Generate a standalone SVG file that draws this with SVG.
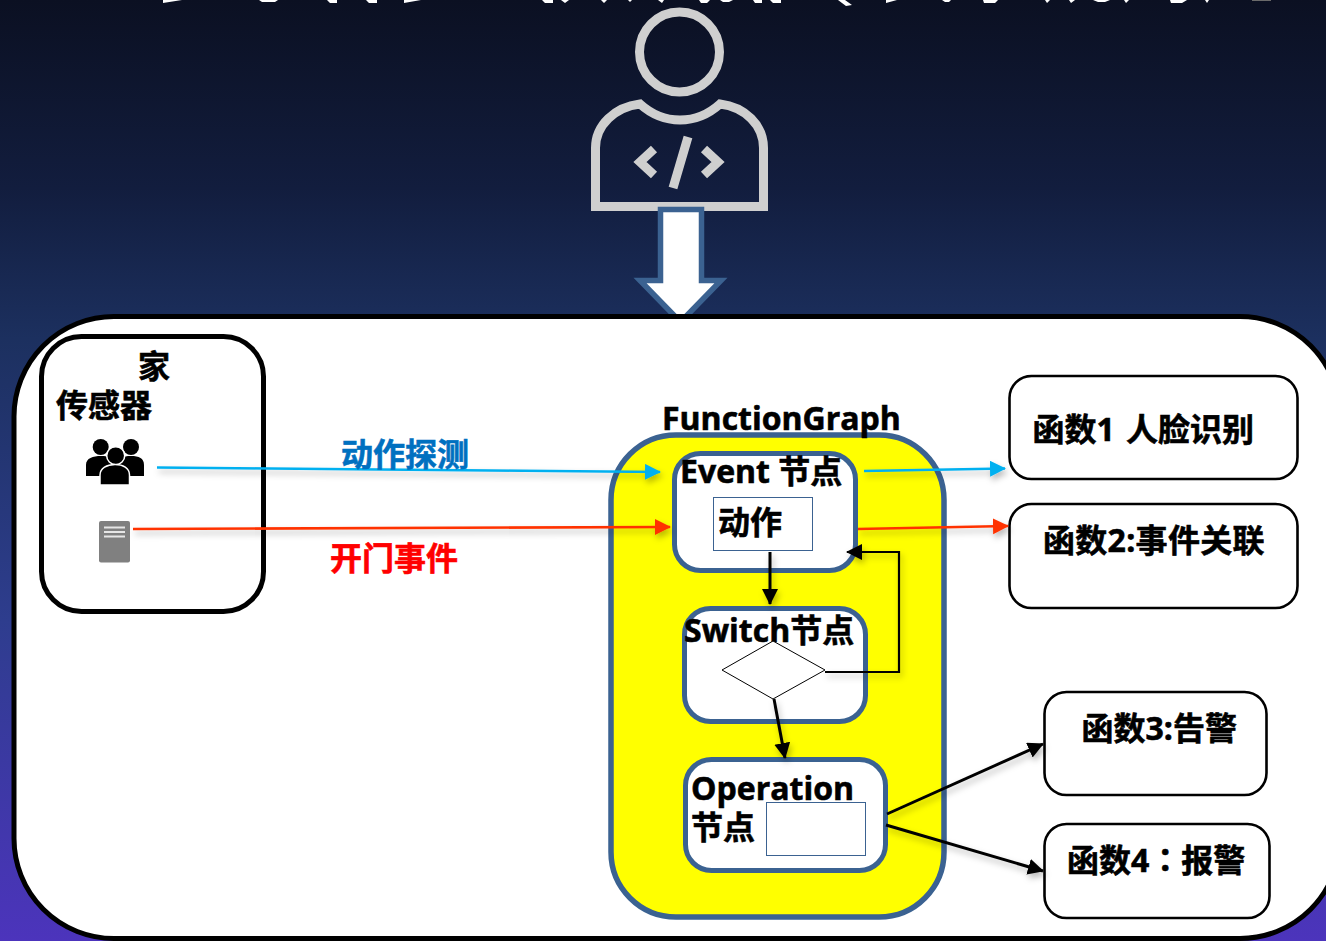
<svg xmlns="http://www.w3.org/2000/svg" width="1326" height="941" viewBox="0 0 1326 941">
<style>
text{font-family:"Open Sans","Noto Sans CJK SC",sans-serif;font-weight:700;font-size:32px;fill:#000;stroke:#000;stroke-width:.6}
.tc{font-family:"Noto Sans CJK TC",sans-serif}
.blue{stroke:#3b6291;stroke-width:5.5}
.inner{fill:#fff;stroke:#3b6291;stroke-width:5}
.thin{fill:#fff;stroke:#3b6291;stroke-width:1}
.fn{fill:#fff;stroke:#000;stroke-width:2.6}
.ln{fill:none;stroke-width:2.6;filter:url(#sh)}
.bk{stroke:#000;stroke-width:3}
.bk2{stroke:#000;stroke-width:2.2}
.cy{stroke:#00b0f0}
.rd{stroke:#ff3300}
.gry{fill:none;stroke:#cfcfcf;stroke-width:9}
</style>
<defs>
<linearGradient id="bg" x1="0" y1="0" x2="0" y2="1">
<stop offset="0" stop-color="#0b1022"/><stop offset=".2" stop-color="#121d3e"/><stop offset=".36" stop-color="#1c305f"/><stop offset=".66" stop-color="#2e3d8e"/><stop offset="1" stop-color="#4c34bc"/>
</linearGradient>
<filter id="sh" x="0" y="0" width="1326" height="941" filterUnits="userSpaceOnUse"><feDropShadow dx="2" dy="4" stdDeviation="3" flood-color="#000" flood-opacity=".28"/></filter>
<marker id="aK" markerUnits="userSpaceOnUse" markerWidth="18" markerHeight="18" refX="15" refY="8" orient="auto"><path d="M0 0L16 8L0 16Z" fill="#000"/></marker>
<marker id="aC" markerUnits="userSpaceOnUse" markerWidth="18" markerHeight="18" refX="15" refY="8" orient="auto"><path d="M0 0L16 8L0 16Z" fill="#00b0f0"/></marker>
<marker id="aR" markerUnits="userSpaceOnUse" markerWidth="18" markerHeight="18" refX="15" refY="8" orient="auto"><path d="M0 0L16 8L0 16Z" fill="#ff3300"/></marker>
</defs>
<rect width="1326" height="941" fill="url(#bg)"/>
<path id="clipped-top-edge" fill="#fff" d="M163 3L182 0H170L163 0ZM259 0H278L275 2H262ZM327 0H337V3H330ZM366 0H377V3H369ZM404 3L421 0H404ZM542 0H553V3H545ZM561 0H569L565 3ZM601 0H607L604 3ZM628 0H632L630 2ZM658 0H664L662 3ZM699 0H710L707 3H701ZM720 0H733L729 2H723ZM753 0H762V3H755ZM770 0H781V3H773ZM838 0H845L852 5L846 6ZM886 3L897 0H886ZM942 0H951L949 2H945ZM983 0H998L995 3H984ZM1045 0H1050L1047 3ZM1069 0H1075L1071 3ZM1093 0H1110L1105 2H1098ZM1124 0H1129L1126 3ZM1170 0H1187L1182 3H1171ZM1205 0H1209L1207 3Z"/>
<rect x="1252" y="0" width="19" height="1" fill="#6a6a6a"/>
<g id="developer-icon">
<circle class="gry" cx="679.5" cy="52" r="40"/>
<path class="gry" d="M595.5 206.500V148C595.500 125 615 107 640 104C650 113 664 120 680 120C696 120 710 113 720 104C745 107 763.500 125 763.500 148V206.500Z"/>
<path class="gry" d="M654 149L640 162L654 175M704 149L718 162L704 175"/>
<path class="gry" d="M688 137L673 188"/>
</g>
<path id="down-arrow" d="M660.500 209.500H701.500V280.500H721L680.500 322L640 280.500H660.500Z" fill="#fff" stroke="#3b6291" stroke-width="5.500"/>
<rect id="panel" x="14" y="316.500" width="1326" height="622" rx="100" ry="100" fill="#fff" stroke="#000" stroke-width="5"/>
<g id="home">
<rect x="41.500" y="336.500" width="222" height="275" rx="40" ry="40" fill="#fff" stroke="#000" stroke-width="5"/>
<text x="138" y="378">家</text>
<text x="56" y="417">传感器</text>
<g id="people-icon">
<circle cx="100.700" cy="447" r="8"/><circle cx="131" cy="447" r="8"/>
<path d="M86 476V465C86 458 93 456 101 456C109 456 116 458 116 465V476ZM116 476V465C116 458 123 456 131 456C139 456 144 458 144 465V476Z"/>
<circle cx="115.700" cy="455.700" r="9" stroke="#fff" stroke-width="1.500"/>
<path d="M100 485V475C100 468 107 464.500 115 464.500C123 464.500 129.500 468 129.500 475V485Z" stroke="#fff" stroke-width="1.500"/>
</g>
<g id="server-icon">
<rect x="99" y="521" width="31" height="41.500" rx="2" fill="#808080"/>
<path d="M104 527.500H125M104 532H125M104 536.500H125" stroke="#e6e6e6" stroke-width="2"/>
</g>
</g>
<g id="functiongraph">
<rect class="blue" x="611" y="435" width="333" height="482" rx="65" ry="65" fill="#ffff00"/>
<text x="662" y="430">FunctionGraph</text>
</g>
<g id="event-node">
<rect class="inner" x="674.500" y="453.500" width="181" height="117" rx="26" ry="26"/>
<text x="680" y="483">Event 节点</text>
<rect class="thin" x="713.500" y="497.500" width="99" height="53"/>
<text x="718" y="534">动作</text>
</g>
<g id="switch-node">
<rect class="inner" x="684.500" y="608.500" width="181" height="113" rx="26" ry="26"/>
<text x="684" y="642">Switch节点</text>
<path d="M722 670L773 641L825 670L773 699Z" fill="#fff" stroke="#000" stroke-width="1"/>
</g>
<g id="operation-node">
<rect class="inner" x="685.500" y="759.500" width="200" height="111" rx="26" ry="26"/>
<text x="691" y="800">Operation</text>
<text x="691" y="839">节点</text>
<rect class="thin" x="766.500" y="802.500" width="99" height="53"/>
</g>
<g id="fn1"><rect class="fn" x="1009.500" y="376" width="288" height="103" rx="22" ry="22"/><text x="1032.500" y="441">函数1 <tspan x="1126">人脸识别</tspan></text></g>
<g id="fn2"><rect class="fn" x="1009.500" y="504" width="288" height="104" rx="22" ry="22"/><text x="1043" y="552" letter-spacing=".3">函数2:事件关联</text></g>
<g id="fn3"><rect class="fn" x="1044.500" y="692" width="222" height="103" rx="22" ry="22"/><text x="1081.500" y="740">函数3:告警</text></g>
<g id="fn4"><rect class="fn" x="1044.500" y="824" width="225" height="94" rx="22" ry="22"/><text x="1067" y="872">函数4<tspan class="tc">&#xFF1A;</tspan>报警</text></g>
<g id="connectors">
<path class="ln cy" marker-end="url(#aC)" d="M157 467.500L660 472"/>
<path class="ln rd" marker-end="url(#aR)" d="M133 529L670 527"/>
<path class="ln cy" marker-end="url(#aC)" d="M864 471L1005 468.500"/>
<path class="ln rd" marker-end="url(#aR)" d="M858 529L1008 526"/>
<path class="ln bk" marker-end="url(#aK)" d="M770 552V604"/>
<path class="ln bk2" marker-end="url(#aK)" d="M825 672H899V552H847"/>
<path class="ln bk" marker-end="url(#aK)" d="M774 699L785 758"/>
<path class="ln bk" marker-end="url(#aK)" d="M887 814L1043 744"/>
<path class="ln bk" marker-end="url(#aK)" d="M886 825L1043 871"/>
</g>
<text x="341" y="466" style="fill:#0070c0;stroke:#0070c0">动作探测</text>
<text x="330" y="570" style="fill:#ff0000;stroke:#ff0000">开门事件</text>
</svg>
